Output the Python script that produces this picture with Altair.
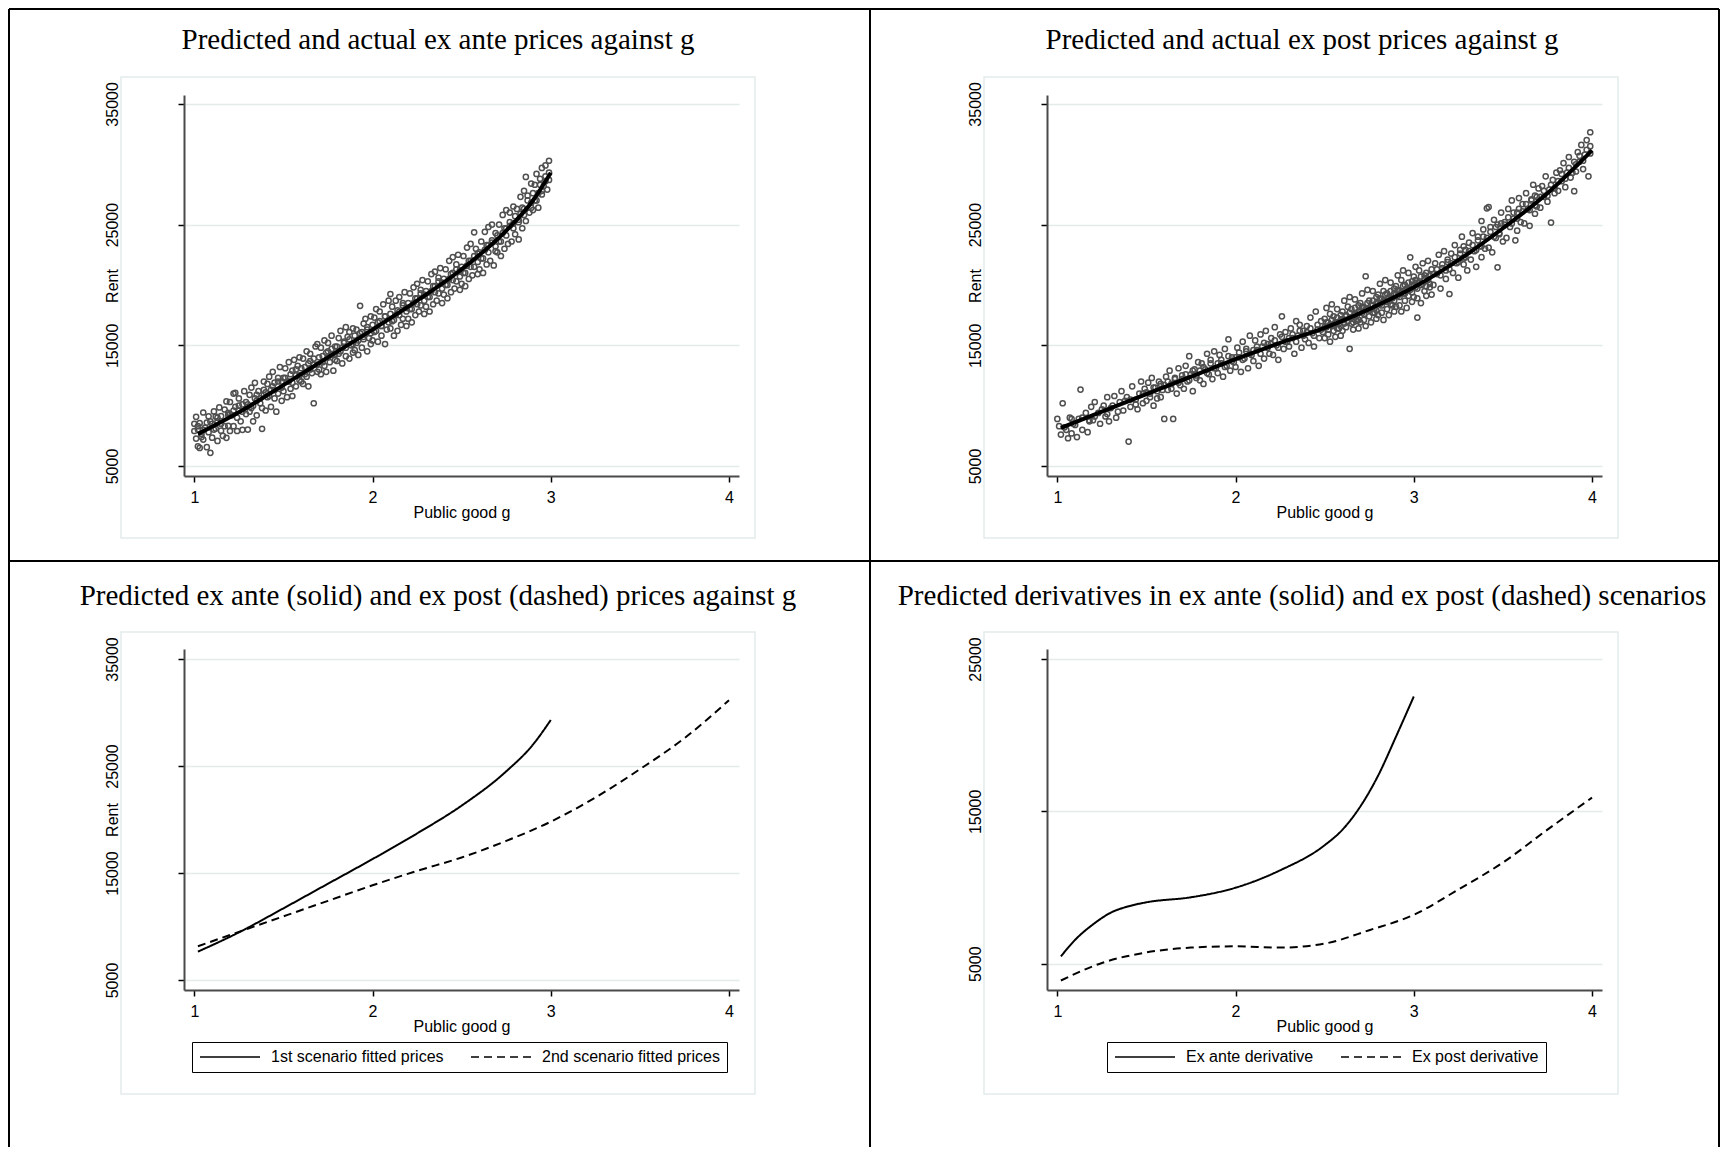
import altair as alt
import pandas as pd

# ------------------------------------------------------------------ data
panel_titles = [
    "Predicted and actual ex ante prices against g",
    "Predicted and actual ex post prices against g",
    "Predicted ex ante (solid) and ex post (dashed) prices against g",
    "Predicted derivatives in ex ante (solid) and ex post (dashed) scenarios",
]
x_ticks = [1, 2, 3, 4]
rent_ticks = [5000, 15000, 25000, 35000]
deriv_ticks = [5000, 15000, 25000]
legend_prices = ["1st scenario fitted prices", "2nd scenario fitted prices"]
legend_deriv = ["Ex ante derivative", "Ex post derivative"]

exante_scatter = [
    (1.00, 8500), (1.01, 7270), (1.01, 9070), (1.02, 6630), (1.02, 8030), (1.03, 6500), (1.03, 8560), (1.04, 7660),
    (1.05, 9430), (1.05, 7190), (1.06, 8190), (1.07, 6560), (1.08, 9120), (1.09, 6090), (1.09, 8690),
    (1.10, 7350), (1.11, 9520), (1.11, 8020), (1.12, 9100), (1.13, 7080), (1.13, 8680), (1.14, 9850), (1.15, 7930),
    (1.15, 9130), (1.16, 7500), (1.17, 9680), (1.18, 7330), (1.18, 10350), (1.19, 8330), (1.19, 9230),
    (1.20, 7900), (1.20, 10300), (1.21, 9200), (1.22, 11000), (1.22, 8300), (1.23, 9900), (1.23, 11060), (1.24, 7900),
    (1.25, 9600), (1.25, 10600), (1.26, 8700), (1.27, 10100), (1.27, 8000), (1.28, 11200), (1.29, 9300),
    (1.30, 8020), (1.31, 10900), (1.31, 9500), (1.32, 11500), (1.33, 10000), (1.33, 8700), (1.34, 11890), (1.35, 10400),
    (1.35, 9200), (1.36, 11200), (1.37, 10600), (1.38, 8080), (1.38, 9800), (1.39, 12000), (1.39, 10900),
    (1.40, 9600), (1.41, 11800), (1.41, 10700), (1.42, 12400), (1.43, 9900), (1.43, 11300), (1.44, 12800), (1.45, 10600),
    (1.45, 11900), (1.46, 9500), (1.47, 12300), (1.47, 11000), (1.48, 13200), (1.49, 10400), (1.49, 12000),
    (1.50, 11200), (1.51, 13100), (1.51, 12300), (1.52, 10700), (1.53, 13600), (1.53, 12000), (1.54, 11400), (1.55, 12900),
    (1.55, 10800), (1.56, 13800), (1.57, 12500), (1.57, 11600), (1.58, 13300), (1.59, 12100), (1.59, 14000),
    (1.60, 12000), (1.61, 13900), (1.61, 11800), (1.62, 13200), (1.63, 14500), (1.63, 12400), (1.64, 11600), (1.65, 13700),
    (1.65, 14300), (1.66, 12700), (1.67, 10200), (1.67, 13400), (1.68, 14900), (1.69, 12800), (1.69, 15100),
    (1.70, 13000), (1.71, 14800), (1.71, 12600), (1.72, 14100), (1.73, 15400), (1.73, 13300), (1.74, 12800), (1.75, 14500),
    (1.75, 15200), (1.76, 13600), (1.77, 15800), (1.77, 14200), (1.78, 12900), (1.79, 14900), (1.79, 13800),
    (1.80, 13700), (1.81, 15600), (1.81, 14300), (1.82, 16200), (1.83, 14800), (1.83, 13500), (1.84, 15300), (1.85, 16500),
    (1.85, 14100), (1.86, 15700), (1.87, 13900), (1.87, 16100), (1.88, 15000), (1.89, 14400), (1.89, 16400),
    (1.90, 14600), (1.91, 16300), (1.91, 15200), (1.92, 14200), (1.93, 18270), (1.93, 16000), (1.94, 14800), (1.95, 16800),
    (1.95, 15500), (1.96, 17200), (1.97, 14500), (1.97, 16300), (1.98, 15600), (1.99, 17400), (1.99, 15100),
    (2.00, 15400), (2.01, 17300), (2.01, 16100), (2.02, 18000), (2.03, 15300), (2.03, 16900), (2.04, 17800), (2.05, 15800),
    (2.05, 16600), (2.06, 18400), (2.07, 15100), (2.07, 17400), (2.08, 16300), (2.09, 18700), (2.10, 19250),
    (2.10, 16400), (2.11, 18200), (2.11, 17000), (2.12, 15800), (2.13, 18700), (2.13, 17500), (2.14, 16200), (2.15, 19000),
    (2.15, 17800), (2.16, 16700), (2.17, 18500), (2.17, 17200), (2.18, 19400), (2.19, 16600), (2.19, 18100),
    (2.20, 17200), (2.21, 19300), (2.21, 18000), (2.22, 16900), (2.23, 19800), (2.23, 18500), (2.24, 17500), (2.25, 20100),
    (2.25, 18900), (2.26, 17800), (2.27, 19600), (2.27, 18300), (2.28, 20400), (2.29, 17600), (2.29, 19200),
    (2.30, 18200), (2.31, 20300), (2.31, 19000), (2.32, 17800), (2.33, 20900), (2.33, 19500), (2.34, 18400), (2.35, 21100),
    (2.35, 19900), (2.36, 18700), (2.37, 20600), (2.37, 19300), (2.38, 21400), (2.39, 18500), (2.39, 20200),
    (2.40, 19200), (2.41, 21300), (2.41, 20000), (2.42, 18900), (2.43, 22000), (2.43, 20500), (2.44, 19400), (2.45, 22300),
    (2.45, 21000), (2.46, 19700), (2.47, 21700), (2.47, 20300), (2.48, 22500), (2.49, 19600), (2.49, 21200),
    (2.50, 20100), (2.51, 22400), (2.51, 21000), (2.52, 19900), (2.53, 23100), (2.53, 21600), (2.54, 20500), (2.55, 23400),
    (2.55, 22000), (2.56, 20800), (2.57, 24360), (2.57, 21500), (2.58, 23000), (2.59, 20900), (2.59, 22600),
    (2.60, 21300), (2.61, 23600), (2.61, 22200), (2.62, 21000), (2.63, 24400), (2.63, 22900), (2.64, 21700), (2.65, 24800),
    (2.65, 23300), (2.66, 22000), (2.67, 25000), (2.67, 23500), (2.68, 21620), (2.69, 24300), (2.69, 22800),
    (2.70, 22700), (2.71, 25000), (2.71, 23600), (2.72, 22400), (2.73, 25800), (2.73, 24300), (2.74, 23000), (2.75, 26200),
    (2.75, 24700), (2.76, 23400), (2.77, 26000), (2.77, 24900), (2.78, 23600), (2.79, 26500), (2.79, 25100),
    (2.80, 24200), (2.81, 26300), (2.82, 23770), (2.82, 25400), (2.83, 27300), (2.83, 25900), (2.84, 24700), (2.85, 27800),
    (2.85, 26300), (2.86, 28950), (2.86, 25300), (2.87, 27400), (2.88, 26000), (2.89, 28400), (2.89, 26800),
    (2.90, 26200), (2.91, 28300), (2.91, 27000), (2.92, 29200), (2.93, 27600), (2.93, 26400), (2.94, 28800), (2.95, 29700),
    (2.95, 27500), (2.96, 28200), (2.97, 29900), (2.97, 28600), (2.98, 27900), (2.99, 30290), (2.99, 29300),
    # points packed close to the fitted line
    (1.00, 7900), (1.02, 8300), (1.04, 7400), (1.05, 8000), (1.07, 8600), (1.08, 7800),
    (1.10, 8500), (1.12, 8100), (1.13, 9000), (1.15, 8500), (1.17, 8300), (1.19, 9400),
    (1.20, 9300), (1.22, 9600), (1.24, 9000), (1.25, 10000), (1.27, 9500), (1.29, 10300),
    (1.30, 10100), (1.32, 9800), (1.34, 10600), (1.35, 10900), (1.37, 10200), (1.39, 11300),
    (1.40, 11100), (1.42, 10800), (1.44, 11600), (1.45, 11300), (1.47, 12000), (1.49, 11500),
    (1.50, 12300), (1.52, 12000), (1.54, 12600), (1.55, 11900), (1.57, 13000), (1.59, 12500),
    (1.60, 13100), (1.62, 12600), (1.64, 13500), (1.65, 13000), (1.67, 13900), (1.69, 13400),
    (1.70, 14000), (1.72, 13600), (1.74, 14400), (1.75, 14000), (1.77, 14700), (1.79, 14300),
    (1.80, 14900), (1.82, 14500), (1.84, 15200), (1.85, 14800), (1.87, 15500), (1.89, 15100),
    (1.90, 15800), (1.92, 15400), (1.94, 16100), (1.95, 15700), (1.97, 16500), (1.99, 16000),
    (2.00, 16700), (2.02, 16200), (2.04, 17000), (2.05, 16600), (2.07, 17400), (2.09, 16900),
    (2.10, 17600), (2.12, 17100), (2.14, 17900), (2.15, 17500), (2.17, 18300), (2.19, 17800),
    (2.20, 18500), (2.22, 18000), (2.24, 18900), (2.25, 18400), (2.27, 19300), (2.29, 18700),
    (2.30, 19500), (2.32, 19000), (2.34, 19900), (2.35, 19400), (2.37, 20300), (2.39, 19700),
    (2.40, 20500), (2.42, 20000), (2.44, 20900), (2.45, 20400), (2.47, 21300), (2.49, 20700),
    (2.50, 21500), (2.52, 21000), (2.54, 22000), (2.55, 21500), (2.57, 22400), (2.59, 21900),
    (2.60, 22700), (2.62, 22200), (2.64, 23300), (2.65, 22700), (2.67, 23700), (2.69, 23200),
    (2.70, 24100), (2.72, 23600), (2.74, 24700), (2.75, 24100), (2.77, 25200), (2.79, 24700),
    (2.80, 25700), (2.82, 25200), (2.84, 26400), (2.85, 25800), (2.87, 27000), (2.89, 26400),
    (2.90, 27600), (2.92, 27000), (2.94, 28300), (2.95, 27800), (2.97, 29000), (2.99, 28700),
]

expost_scatter = [
    (1.00, 8900), (1.02, 7600), (1.03, 10200), (1.04, 8200), (1.06, 7300), (1.07, 9000), (1.08, 7700), (1.09, 8500),
    (1.11, 7400), (1.12, 8900), (1.13, 11330), (1.14, 8000), (1.16, 9400), (1.17, 7800), (1.18, 8700), (1.19, 9900),
    (1.20, 8800), (1.21, 10300), (1.23, 9400), (1.24, 8500), (1.26, 10000), (1.27, 9100), (1.28, 10700), (1.29, 8700),
    (1.30, 9800), (1.32, 10800), (1.33, 9000), (1.35, 10300), (1.36, 11200), (1.37, 9600), (1.39, 10700), (1.40, 7020),
    (1.41, 9900), (1.42, 11600), (1.44, 10500), (1.45, 9700), (1.46, 11000), (1.47, 12000), (1.48, 10200), (1.49, 11400),
    (1.50, 10400), (1.51, 11900), (1.52, 11000), (1.53, 12300), (1.54, 10000), (1.55, 11500), (1.56, 10600), (1.57, 12000),
    (1.58, 10700), (1.59, 11300),
    (1.60, 8900), (1.61, 12400), (1.62, 11300), (1.63, 12900), (1.64, 11800), (1.65, 8900), (1.66, 12200), (1.67, 11000),
    (1.68, 13100), (1.69, 11700),
    (1.70, 12500), (1.71, 11400), (1.72, 13300), (1.73, 12000), (1.74, 14100), (1.75, 12600), (1.76, 11200), (1.77, 13000),
    (1.78, 12300), (1.79, 13600),
    (1.80, 12100), (1.81, 13500), (1.82, 11800), (1.83, 13000), (1.84, 14300), (1.85, 12600), (1.86, 13800), (1.87, 12200),
    (1.88, 14500), (1.89, 13100),
    (1.90, 12700), (1.91, 14200), (1.92, 13500), (1.93, 12400), (1.94, 14700), (1.95, 13300), (1.96, 15500), (1.97, 12900),
    (1.98, 14000), (1.99, 13600),
    (2.00, 13200), (2.01, 14800), (2.02, 14000), (2.03, 12800), (2.04, 15300), (2.05, 13900), (2.06, 14500), (2.07, 13100),
    (2.08, 15800), (2.09, 14200),
    (2.10, 13700), (2.11, 15400), (2.12, 14600), (2.13, 13300), (2.14, 15900), (2.15, 14900), (2.16, 13900), (2.17, 16200),
    (2.18, 15100), (2.19, 14300),
    (2.20, 15600), (2.21, 14200), (2.22, 16500), (2.23, 15000), (2.24, 13800), (2.25, 15900), (2.26, 17400), (2.27, 14700),
    (2.28, 16100), (2.29, 15300),
    (2.30, 14900), (2.31, 16400), (2.32, 15600), (2.33, 14300), (2.34, 17000), (2.35, 15800), (2.36, 16700), (2.37, 14800),
    (2.38, 16200), (2.39, 15500),
    (2.40, 16600), (2.41, 15200), (2.42, 17300), (2.43, 16000), (2.44, 14900), (2.45, 17800), (2.46, 16300), (2.47, 15600),
    (2.48, 17000), (2.49, 16100),
    (2.50, 15600), (2.50, 17200), (2.51, 16500), (2.51, 18100), (2.52, 15900), (2.52, 16900), (2.53, 17600), (2.53, 15300),
    (2.54, 16700), (2.54, 18400), (2.55, 16200), (2.55, 17400), (2.56, 15700), (2.57, 16900), (2.57, 18000), (2.58, 16400),
    (2.59, 17500), (2.59, 15800),
    (2.60, 16200), (2.60, 17800), (2.61, 17100), (2.61, 18700), (2.62, 16500), (2.62, 17500), (2.63, 18200), (2.64, 14710),
    (2.64, 17300), (2.64, 19000), (2.65, 16800), (2.65, 18000), (2.66, 16300), (2.67, 17600), (2.67, 18800), (2.68, 17000),
    (2.69, 18300), (2.69, 16400),
    (2.70, 16900), (2.70, 18500), (2.71, 17700), (2.71, 19300), (2.72, 17100), (2.72, 18100), (2.73, 20720), (2.73, 16600),
    (2.74, 18000), (2.74, 19600), (2.75, 17400), (2.75, 18700), (2.76, 16900), (2.77, 18300), (2.77, 19500), (2.78, 17700),
    (2.79, 19000), (2.79, 17200),
    (2.80, 17500), (2.80, 19200), (2.81, 18400), (2.81, 20100), (2.82, 17700), (2.82, 18800), (2.83, 19500), (2.83, 17100),
    (2.84, 18600), (2.84, 20400), (2.85, 18000), (2.85, 19300), (2.86, 17500), (2.87, 18900), (2.87, 20200), (2.88, 18300),
    (2.89, 19700), (2.89, 17800),
    (2.90, 18200), (2.90, 19900), (2.91, 19100), (2.91, 20800), (2.92, 18300), (2.92, 19500), (2.93, 20400), (2.93, 17800),
    (2.94, 19300), (2.94, 21200), (2.95, 18700), (2.95, 20000), (2.96, 18100), (2.97, 19600), (2.97, 21000), (2.98, 22290),
    (2.99, 20300), (2.99, 18600),
    (3.00, 19000), (3.00, 20700), (3.01, 19800), (3.01, 21500), (3.02, 18900), (3.02, 17300), (3.02, 20200), (3.03, 21200),
    (3.04, 18500), (3.04, 20000), (3.05, 21800), (3.06, 19500), (3.06, 20800), (3.07, 19100), (3.08, 20500), (3.08, 22000),
    (3.09, 19800), (3.10, 21300), (3.10, 19200),
    (3.11, 20000), (3.12, 21800), (3.13, 20900), (3.14, 22500), (3.15, 19700), (3.16, 21400), (3.17, 22800), (3.18, 20500),
    (3.19, 22100), (3.20, 19250), (3.20, 21300),
    (3.21, 22600), (3.22, 21000), (3.23, 23300), (3.24, 21800), (3.25, 20600), (3.26, 22900), (3.27, 24000), (3.28, 21700),
    (3.28, 23200), (3.29, 22300), (3.30, 21200),
    (3.31, 23500), (3.32, 22100), (3.33, 24300), (3.34, 22800), (3.35, 21500), (3.36, 24000), (3.37, 23200), (3.38, 25300),
    (3.38, 22300), (3.39, 24600), (3.40, 23000),
    (3.41, 26350), (3.42, 26450), (3.42, 23100), (3.43, 24800), (3.44, 22700), (3.45, 25400), (3.46, 23900), (3.47, 21460),
    (3.47, 25000), (3.48, 24200), (3.49, 26000), (3.50, 23600),
    (3.51, 25200), (3.52, 23900), (3.53, 26300), (3.54, 24800), (3.55, 27000), (3.56, 25500), (3.57, 23700), (3.58, 26000),
    (3.58, 24500), (3.59, 27200), (3.60, 25200),
    (3.61, 26700), (3.62, 25100), (3.63, 27600), (3.64, 26300), (3.65, 24900), (3.66, 27100), (3.67, 28300), (3.68, 25900),
    (3.68, 27400), (3.69, 26500), (3.70, 28000),
    (3.71, 26400), (3.72, 28200), (3.73, 27300), (3.74, 29000), (3.75, 26900), (3.76, 27900), (3.77, 25170), (3.78, 28700),
    (3.79, 27600), (3.80, 29300),
    (3.81, 27800), (3.82, 29500), (3.83, 28600), (3.84, 30100), (3.85, 28100), (3.86, 29300), (3.87, 30600), (3.88, 28900),
    (3.90, 27770), (3.90, 30200),
    (3.91, 29400), (3.92, 31000), (3.93, 30200), (3.94, 31600), (3.95, 29600), (3.96, 30800), (3.97, 32000), (3.98, 29000),
    (3.99, 31500), (3.99, 32650),
    # points packed close to the fitted line
    (1.01, 8300), (1.05, 8000), (1.08, 8900), (1.10, 8400), (1.14, 9000), (1.18, 8800),
    (1.21, 9100), (1.25, 9700), (1.28, 9300), (1.31, 10000), (1.34, 9500), (1.38, 10400),
    (1.41, 10500), (1.44, 10100), (1.48, 11000),
    (1.50, 11100), (1.52, 10700), (1.54, 11500), (1.56, 11200), (1.58, 11800),
    (1.60, 11700), (1.62, 12000), (1.64, 11400), (1.66, 12300), (1.68, 11900),
    (1.70, 12200), (1.72, 12600), (1.74, 12100), (1.76, 12900), (1.78, 12500),
    (1.80, 12900), (1.82, 13200), (1.84, 12700), (1.86, 13500), (1.88, 13100),
    (1.90, 13500), (1.92, 13800), (1.94, 13200), (1.96, 14100), (1.98, 13700),
    (2.00, 14000), (2.02, 14400), (2.04, 13800), (2.06, 14700), (2.08, 14300),
    (2.10, 14600), (2.12, 14900), (2.14, 14300), (2.16, 15200), (2.18, 14800),
    (2.20, 15100), (2.22, 15400), (2.24, 14800), (2.26, 15700), (2.28, 15300),
    (2.30, 15600), (2.32, 15900), (2.34, 15300), (2.36, 16200), (2.38, 15800),
    (2.40, 16100), (2.42, 16400), (2.44, 15800), (2.46, 16700), (2.48, 16300),
    (2.50, 16500), (2.51, 16900), (2.52, 16300), (2.53, 16700), (2.54, 17100), (2.55, 16600),
    (2.56, 16900), (2.57, 16400), (2.57, 17300), (2.58, 16800), (2.59, 17100), (2.59, 16600),
    (2.60, 17200), (2.61, 16800), (2.62, 17400), (2.63, 17000), (2.64, 17700), (2.65, 17300),
    (2.66, 16900), (2.67, 17500), (2.67, 18100), (2.68, 17400), (2.69, 17800), (2.69, 17100),
    (2.70, 17800), (2.71, 18200), (2.72, 17600), (2.73, 18000), (2.74, 18500), (2.75, 17900),
    (2.76, 18300), (2.77, 17700), (2.77, 18700), (2.78, 18100), (2.79, 18500), (2.79, 17900),
    (2.80, 18500), (2.81, 18900), (2.82, 18300), (2.83, 18700), (2.84, 19200), (2.85, 18600),
    (2.86, 19000), (2.87, 18400), (2.87, 19500), (2.88, 18900), (2.89, 19300), (2.89, 18700),
    (2.90, 19200), (2.91, 19600), (2.92, 19000), (2.93, 19400), (2.94, 19900), (2.95, 19300),
    (2.96, 19700), (2.97, 19100), (2.97, 20200), (2.98, 19600), (2.99, 20000), (2.99, 19400),
    (3.00, 19900), (3.01, 20400), (3.02, 19700), (3.03, 20200), (3.04, 20700), (3.05, 20100),
    (3.06, 20500), (3.07, 19900), (3.07, 21000), (3.08, 20400), (3.09, 20800), (3.09, 20100),
    (3.11, 20900), (3.13, 21300), (3.15, 20800), (3.16, 21700), (3.18, 21200), (3.19, 21900),
    (3.21, 21800), (3.23, 22300), (3.25, 21900), (3.26, 22600), (3.28, 22200), (3.29, 22900),
    (3.31, 22800), (3.33, 23300), (3.35, 22900), (3.36, 23700), (3.38, 23200), (3.39, 24000),
    (3.41, 23900), (3.43, 24400), (3.45, 24000), (3.46, 24800), (3.48, 24300), (3.49, 25100),
    (3.51, 25000), (3.53, 25600), (3.55, 25100), (3.56, 26000), (3.58, 25500), (3.59, 26300),
    (3.61, 26100), (3.63, 26700), (3.65, 26200), (3.66, 27000), (3.68, 26600), (3.69, 27300),
    (3.71, 27300), (3.73, 27800), (3.75, 27400), (3.77, 28300), (3.79, 28000),
    (3.81, 28600), (3.83, 29200), (3.85, 28800), (3.87, 29700), (3.89, 29300),
    (3.91, 30000), (3.93, 30700), (3.95, 30300), (3.97, 31200), (3.99, 30900),
]

# fitted price curves
exante_fit_g = [1.02, 1.25, 1.50, 1.75, 2.00, 2.25, 2.50, 2.75, 2.90, 3.00]
exante_fit_rent = [7650, 9450, 11700, 14000, 16300, 18700, 21300, 24500, 27000, 29300]
expost_fit_g = [1.02, 1.25, 1.50, 1.75, 2.00, 2.25, 2.50, 2.75, 3.00, 3.25, 3.50, 3.75, 4.00]
expost_fit_rent = [8150, 9500, 10950, 12400, 13850, 15200, 16450, 18000, 19800, 22050, 24700, 27600, 31150]

# fitted derivatives
exante_deriv_g = [1.02, 1.10, 1.20, 1.30, 1.40, 1.50, 1.75, 2.00, 2.25, 2.50, 2.60, 2.70, 2.80, 2.90, 3.00]
exante_deriv = [5480, 6570, 7580, 8350, 8770, 9030, 9360, 9990, 11130, 12780, 13800, 15320, 17350, 19900, 22540]
expost_deriv_g = [1.02, 1.25, 1.50, 1.75, 2.00, 2.25, 2.50, 2.75, 3.00, 3.25, 3.50, 3.75, 4.00]
expost_deriv = [3900, 5050, 5740, 6060, 6140, 6060, 6320, 7200, 8210, 9870, 11640, 13800, 15900]

# ------------------------------------------------------------------ style / layout
SANS = "Liberation Sans"
SERIF = "Liberation Serif"
AXIS_COLOR = "#4a4a4a"
GRID_COLOR = "#e3ebeb"
BOX_COLOR = "#e3ebeb"
POINT_COLOR = "#4f4f4f"

W, H_TOP, H_BOT = 555, 381, 341
COL_GAP, ROW_GAP = 308, 173
X_DOMAIN = [0.942, 4.056]
RENT_DOMAIN_TOP = [4171, 35738]
RENT_DOMAIN_BOT = [4066, 35934]
DERIV_DOMAIN = [3275, 25656]

dummy = pd.DataFrame({"k": [0]})

exante_df = pd.DataFrame(exante_scatter, columns=["g", "rent"])
expost_df = pd.DataFrame(expost_scatter, columns=["g", "rent"])
exante_fit_df = pd.DataFrame({"g": exante_fit_g, "rent": exante_fit_rent})
expost_fit_df = pd.DataFrame({"g": expost_fit_g, "rent": expost_fit_rent})
prices_df = pd.concat([
    pd.DataFrame({"g": exante_fit_g, "rent": exante_fit_rent, "series": legend_prices[0]}),
    pd.DataFrame({"g": expost_fit_g, "rent": expost_fit_rent, "series": legend_prices[1]}),
])
deriv_df = pd.concat([
    pd.DataFrame({"g": exante_deriv_g, "rent": exante_deriv, "series": legend_deriv[0]}),
    pd.DataFrame({"g": expost_deriv_g, "rent": expost_deriv, "series": legend_deriv[1]}),
])


def x_enc():
    return alt.X(
        "g:Q",
        scale=alt.Scale(domain=X_DOMAIN, nice=False, zero=False),
        axis=alt.Axis(
            values=x_ticks, format="d", title="Public good g", grid=False, labelFlush=False,
            domainColor=AXIS_COLOR, domainWidth=2, tickColor="black", tickWidth=1.5, tickSize=6,
            labelFont=SANS, labelFontSize=16, labelColor="black", labelPadding=7, labelAngle=0,
            titleFont=SANS, titleFontSize=16, titleFontWeight="normal", titleColor="black",
            titleY=41, titleBaseline="alphabetic",
        ),
    )


def y_enc(domain, values, title, height):
    kw = dict(
        values=values, format="d", grid=True, gridColor=GRID_COLOR, gridWidth=1.5, labelFlush=False,
        domainColor=AXIS_COLOR, domainWidth=2, tickColor="black", tickWidth=1.5, tickSize=6,
        labelFont=SANS, labelFontSize=16, labelColor="black", labelAngle=270, labelAlign="center",
        labelBaseline="middle", labelPadding=66, labelOverlap=False,
    )
    if title:
        kw.update(title=title, titleFont=SANS, titleFontSize=16, titleFontWeight="normal",
                  titleColor="black", titleAngle=270, titleX=-72, titleY=height / 2,
                  titleAlign="center", titleBaseline="middle")
    else:
        kw.update(title=None)
    return alt.Y("rent:Q", scale=alt.Scale(domain=domain, nice=False, zero=False), axis=alt.Axis(**kw))


def hrule(x1, x2, y, color="black", width=2):
    return alt.Chart(dummy).mark_rule(color=color, strokeWidth=width).encode(
        x=alt.value(x1), x2=alt.value(x2), y=alt.value(y))


def vrule(x, y1, y2, color="black", width=2):
    return alt.Chart(dummy).mark_rule(color=color, strokeWidth=width).encode(
        x=alt.value(x), y=alt.value(y1), y2=alt.value(y2))


def box(x1, x2, y1, y2):
    return alt.Chart(dummy).mark_rect(fillOpacity=0, stroke=BOX_COLOR, strokeWidth=1.5).encode(
        x=alt.value(x1), x2=alt.value(x2), y=alt.value(y1), y2=alt.value(y2))


def title_text(t, x, y):
    return alt.Chart(pd.DataFrame({"t": [t]})).mark_text(
        font=SERIF, fontSize=29, color="black", align="center", baseline="alphabetic"
    ).encode(text="t:N", x=alt.value(x), y=alt.value(y))


def scatter_panel(df, fit_df, title, tx):
    pts = alt.Chart(df).mark_point(
        shape="circle", filled=False, size=27, strokeWidth=1.5, color=POINT_COLOR, opacity=1
    ).encode(x=x_enc(), y=y_enc(RENT_DOMAIN_TOP, rent_ticks, "Rent", H_TOP))
    fit = alt.Chart(fit_df).mark_line(interpolate="monotone", color="black", strokeWidth=4).encode(
        x=x_enc(), y=y_enc(RENT_DOMAIN_TOP, rent_ticks, "Rent", H_TOP))
    return [box(-63, 571, -18, 443), title_text(title, tx, -46), pts, fit]


def legend(lx):
    return alt.Legend(
        title=None, orient="none", legendX=lx, legendY=393, direction="horizontal", columns=2,
        symbolType="stroke", symbolSize=3600, symbolStrokeWidth=1.5, symbolStrokeColor="black",
        clipHeight=16, labelFont=SANS, labelFontSize=16, labelColor="black", labelLimit=400,
        labelOffset=10, columnPadding=26, padding=7, strokeColor="black", fillColor="white",
    )


def line_panel(df, labels, domain, values, ytitle, title, tx, lx):
    lines = alt.Chart(df).mark_line(interpolate="monotone", color="black", strokeWidth=2).encode(
        x=x_enc(),
        y=y_enc(domain, values, ytitle, H_BOT),
        strokeDash=alt.StrokeDash(
            "series:N",
            scale=alt.Scale(domain=labels, range=[[1, 0], [8, 5]]),
            legend=legend(lx),
        ),
    )
    return [box(-63, 571, -17, 445), title_text(title, tx, -44), lines]


# frame lines of the four quadrants (drawn from the top-left panel)
frames = [
    hrule(-175, 1535, -86), hrule(-175, 1535, 466),
    vrule(-175, -86, 1052), vrule(686, -86, 1052), vrule(1535, -86, 1052),
]

tl = alt.layer(*(frames + scatter_panel(exante_df, exante_fit_df, panel_titles[0], 254))).properties(
    width=W, height=H_TOP)
tr = alt.layer(*scatter_panel(expost_df, expost_fit_df, panel_titles[1], 255)).properties(
    width=W, height=H_TOP)
bl = alt.layer(*line_panel(prices_df, legend_prices, RENT_DOMAIN_BOT, rent_ticks, "Rent",
                           panel_titles[2], 254, 8)).properties(width=W, height=H_BOT)
br = alt.layer(*line_panel(deriv_df, legend_deriv, DERIV_DOMAIN, deriv_ticks, None,
                           panel_titles[3], 255, 60)).properties(width=W, height=H_BOT)

chart = (
    alt.concat(tl, tr, bl, br, columns=2, spacing={"row": ROW_GAP, "column": COL_GAP})
    .resolve_scale(strokeDash="independent")
    .resolve_legend(strokeDash="independent")
    .properties(bounds="flush", padding=0, background="white")
    .configure_view(strokeWidth=0)
)

chart.save("out.html", embed_options={"renderer": "svg", "actions": False})
